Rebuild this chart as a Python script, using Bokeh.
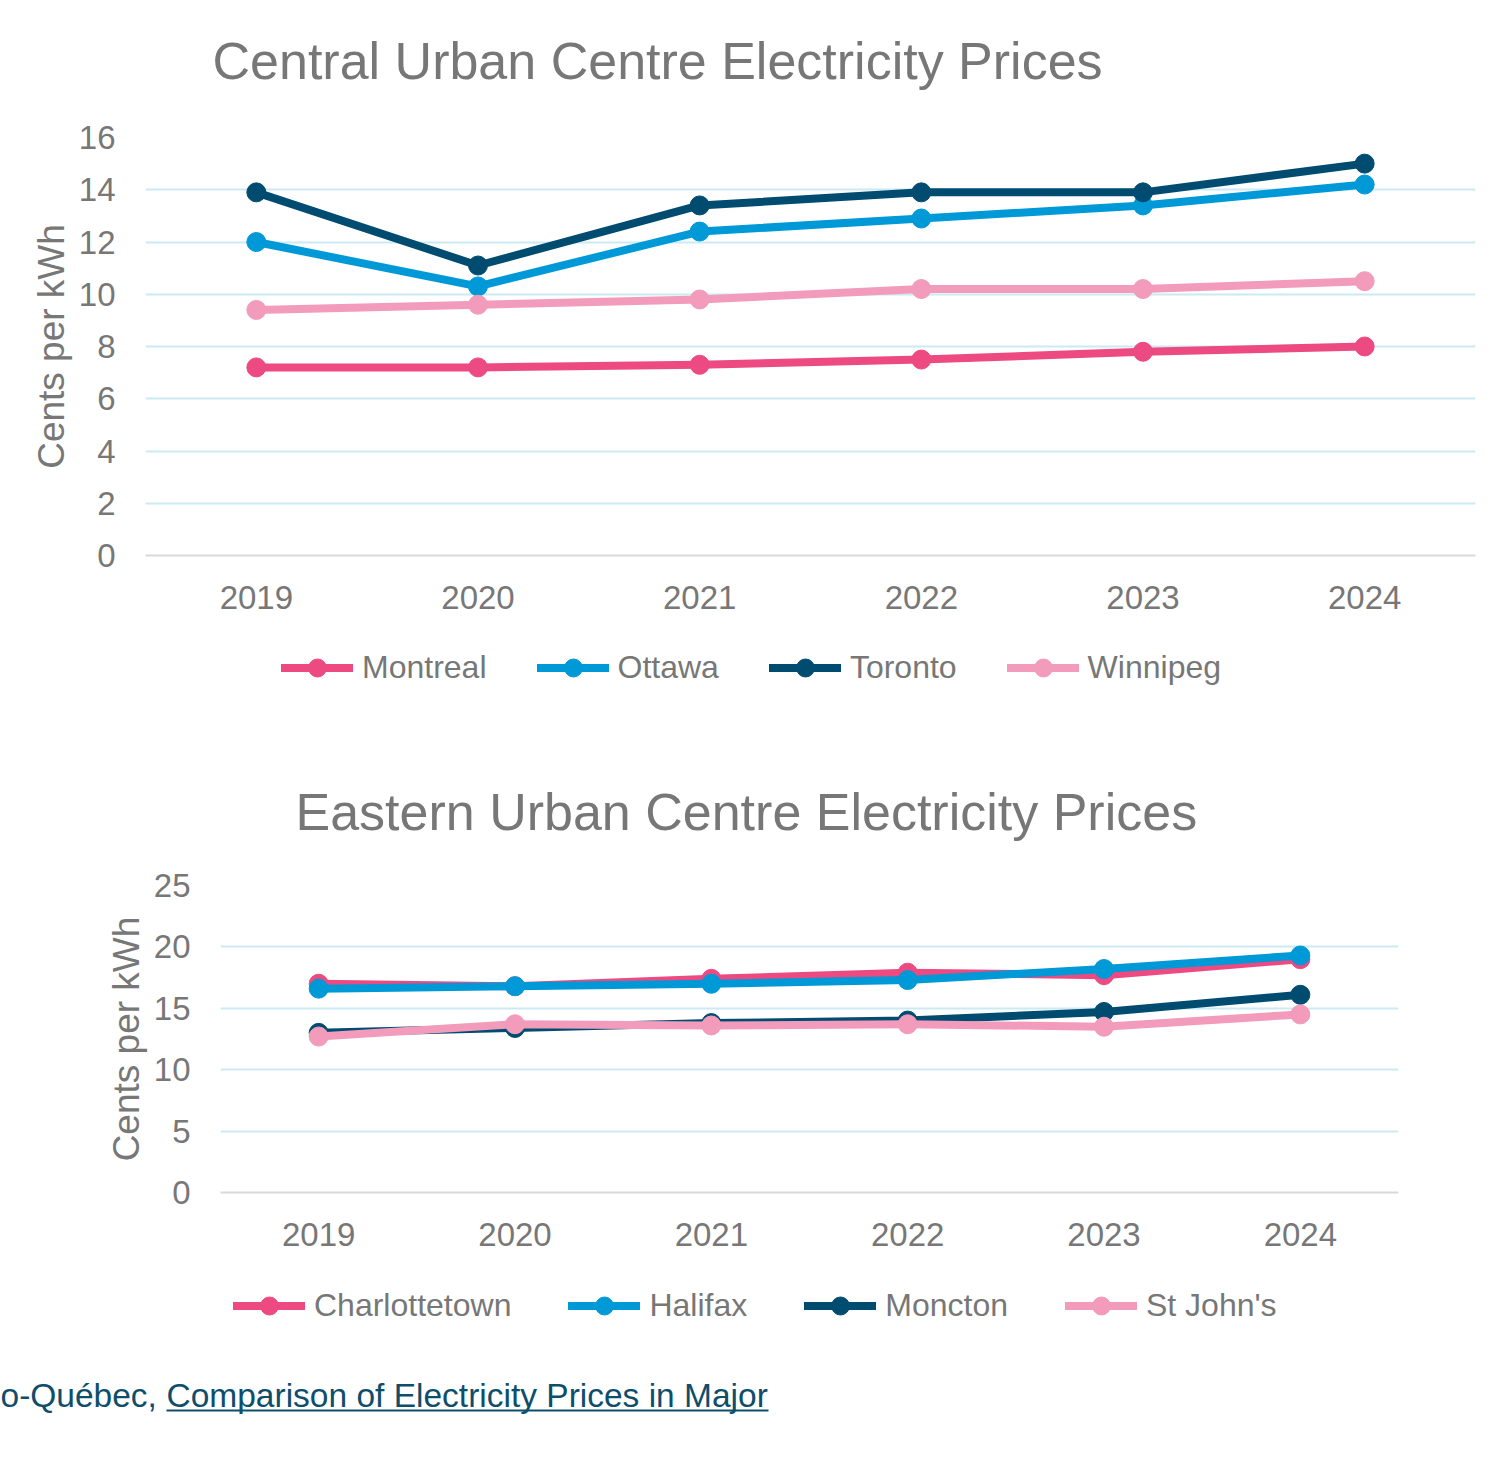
from bokeh.plotting import figure
from bokeh.models import (Range1d, FactorRange, FixedTicker, Legend, LegendItem,
                          Label, ColumnDataSource)
from bokeh.embed import file_html
from bokeh.resources import INLINE

# ---- data (cents per kWh) ----
years = ["2019", "2020", "2021", "2022", "2023", "2024"]

central_cities = ["Montreal", "Ottawa", "Toronto", "Winnipeg"]
montreal = [7.2, 7.2, 7.3, 7.5, 7.8, 8.0]
ottawa = [12.0, 10.3, 12.4, 12.9, 13.4, 14.2]
toronto = [13.9, 11.1, 13.4, 13.9, 13.9, 15.0]
winnipeg = [9.4, 9.6, 9.8, 10.2, 10.2, 10.5]

eastern_cities = ["Charlottetown", "Halifax", "Moncton", "St John's"]
charlottetown = [17.0, 16.8, 17.4, 17.9, 17.7, 19.0]
halifax = [16.6, 16.8, 17.0, 17.3, 18.2, 19.3]
moncton = [13.0, 13.4, 13.8, 14.0, 14.7, 16.1]
stjohns = [12.7, 13.7, 13.6, 13.7, 13.5, 14.5]

central_ticks = [0, 2, 4, 6, 8, 10, 12, 14, 16]
eastern_ticks = [0, 5, 10, 15, 20, 25]

palette = ["#EC4A80", "#0099D8", "#004C70", "#F29BBB"]

FONT = "Liberation Sans"
GREY = "#777777"
GRID = "#CCEAF4"
AXIS = "#D9D9D9"
SRC = "#0E4E6B"
LINE_W = 8
MARKER = 19
W = 1510


def style(p):
    p.outline_line_color = None
    p.background_fill_color = "white"
    p.border_fill_color = "white"
    p.grid.visible = False


def make_chart(series, ticks, height, borders):
    left, right, top, bottom = borders
    p = figure(width=W, height=height, x_range=FactorRange(*years, range_padding=0),
               y_range=Range1d(0, ticks[-1]), output_backend="svg",
               toolbar_location=None, min_border_left=left, min_border_right=right,
               min_border_top=top, min_border_bottom=bottom)
    style(p)
    p.ygrid.visible = True
    p.ygrid.grid_line_color = GRID
    p.ygrid.grid_line_width = 2
    p.ygrid.ticker = FixedTicker(ticks=ticks)

    p.yaxis.ticker = FixedTicker(ticks=ticks)
    p.yaxis.axis_line_color = None
    p.yaxis.major_tick_line_color = None
    p.yaxis.minor_tick_line_color = None
    p.yaxis.major_label_standoff = 24
    p.yaxis.major_label_text_font = FONT
    p.yaxis.major_label_text_font_size = "33px"
    p.yaxis.major_label_text_color = GREY
    p.yaxis.axis_label = "Cents per kWh"
    p.yaxis.axis_label_text_font = FONT
    p.yaxis.axis_label_text_font_size = "37px"
    p.yaxis.axis_label_text_font_style = "normal"
    p.yaxis.axis_label_text_color = GREY
    p.yaxis.axis_label_standoff = 4

    p.xaxis.axis_line_color = AXIS
    p.xaxis.axis_line_width = 2
    p.xaxis.major_tick_line_color = None
    p.xaxis.minor_tick_line_color = None
    p.xaxis.major_label_standoff = 24
    p.xaxis.major_label_text_font = FONT
    p.xaxis.major_label_text_font_size = "33px"
    p.xaxis.major_label_text_color = GREY

    sources = []
    for vals, color in zip(series, palette):
        src = ColumnDataSource(dict(year=years, value=vals))
        p.line("year", "value", source=src, line_color=color, line_width=LINE_W,
               line_cap="round", line_join="round")
        p.scatter("year", "value", source=src, size=MARKER, fill_color=color,
                  line_color=color)
        sources.append(src)
    return p, sources


def make_strip(height):
    # a band of text / legend above or below a chart; its own glyphs sit
    # below the visible y window, so only the annotations show
    s = figure(width=W, height=height, x_range=FactorRange(*years, range_padding=0),
               y_range=Range1d(-20, -10), x_axis_type=None, y_axis_type=None,
               output_backend="svg", toolbar_location=None, min_border=0)
    style(s)
    return s


def add_legend(strip, cities, sources, location, spacing):
    items = []
    for name, src, color in zip(cities, sources, palette):
        ln = strip.line("year", "value", source=src, line_color=color,
                        line_width=LINE_W, line_cap="round")
        mk = strip.scatter("year", "value", source=src, size=MARKER,
                           fill_color=color, line_color=color)
        items.append(LegendItem(label=name, renderers=[ln, mk]))
    legend = Legend(items=items, orientation="horizontal", location=location,
                    glyph_width=72, glyph_height=45, label_standoff=9,
                    spacing=spacing, padding=0, margin=0,
                    border_line_color=None, background_fill_alpha=0,
                    label_text_font=FONT, label_text_font_size="32px",
                    label_text_color=GREY)
    strip.add_layout(legend, "center")


def add_title(strip, text, x, y):
    strip.add_layout(Label(x=x, y=y, x_units="screen", y_units="screen", text=text,
                           text_font=FONT, text_font_size="52px", text_color=GREY,
                           text_align="left", text_baseline="middle"))


# title band, chart, legend + second title, chart, legend, source
title_a = make_strip(100)
add_title(title_a, "Central Urban Centre Electricity Prices", 212, 40)

top, top_sources = make_chart([montreal, ottawa, toronto, winnipeg], central_ticks,
                              height=525, borders=(145, 35, 37, 70))

band_b = make_strip(225)
add_legend(band_b, central_cities, top_sources, (281, 160), 50)
add_title(band_b, "Eastern Urban Centre Electricity Prices", 295, 39)

bottom, bottom_sources = make_chart([charlottetown, halifax, moncton, stjohns],
                                    eastern_ticks, height=412, borders=(220, 112, 35, 70))

band_c = make_strip(88)
add_legend(band_c, eastern_cities, bottom_sources, (233, 22), 57)

source_band = figure(width=W, height=108, x_range=Range1d(0, W), y_range=Range1d(108, 0),
                     x_axis_type=None, y_axis_type=None, output_backend="svg",
                     toolbar_location=None, min_border=0)
style(source_band)
source_band.add_layout(Label(x=0, y=45, text="o-Québec, ", text_font=FONT,
                             text_font_size="33.5px", text_color=SRC,
                             text_baseline="middle", text_align="left"))
source_band.add_layout(Label(x=166, y=45, text="Comparison of Electricity Prices in Major",
                             text_font=FONT, text_font_size="33.5px", text_color=SRC,
                             text_baseline="middle", text_align="left"))
source_band.segment(x0=[166], y0=[60], x1=[768], y1=[60], line_color=SRC, line_width=2)

open("out.html", "w").write(file_html([title_a, top, band_b, bottom, band_c, source_band],
                                      INLINE))
